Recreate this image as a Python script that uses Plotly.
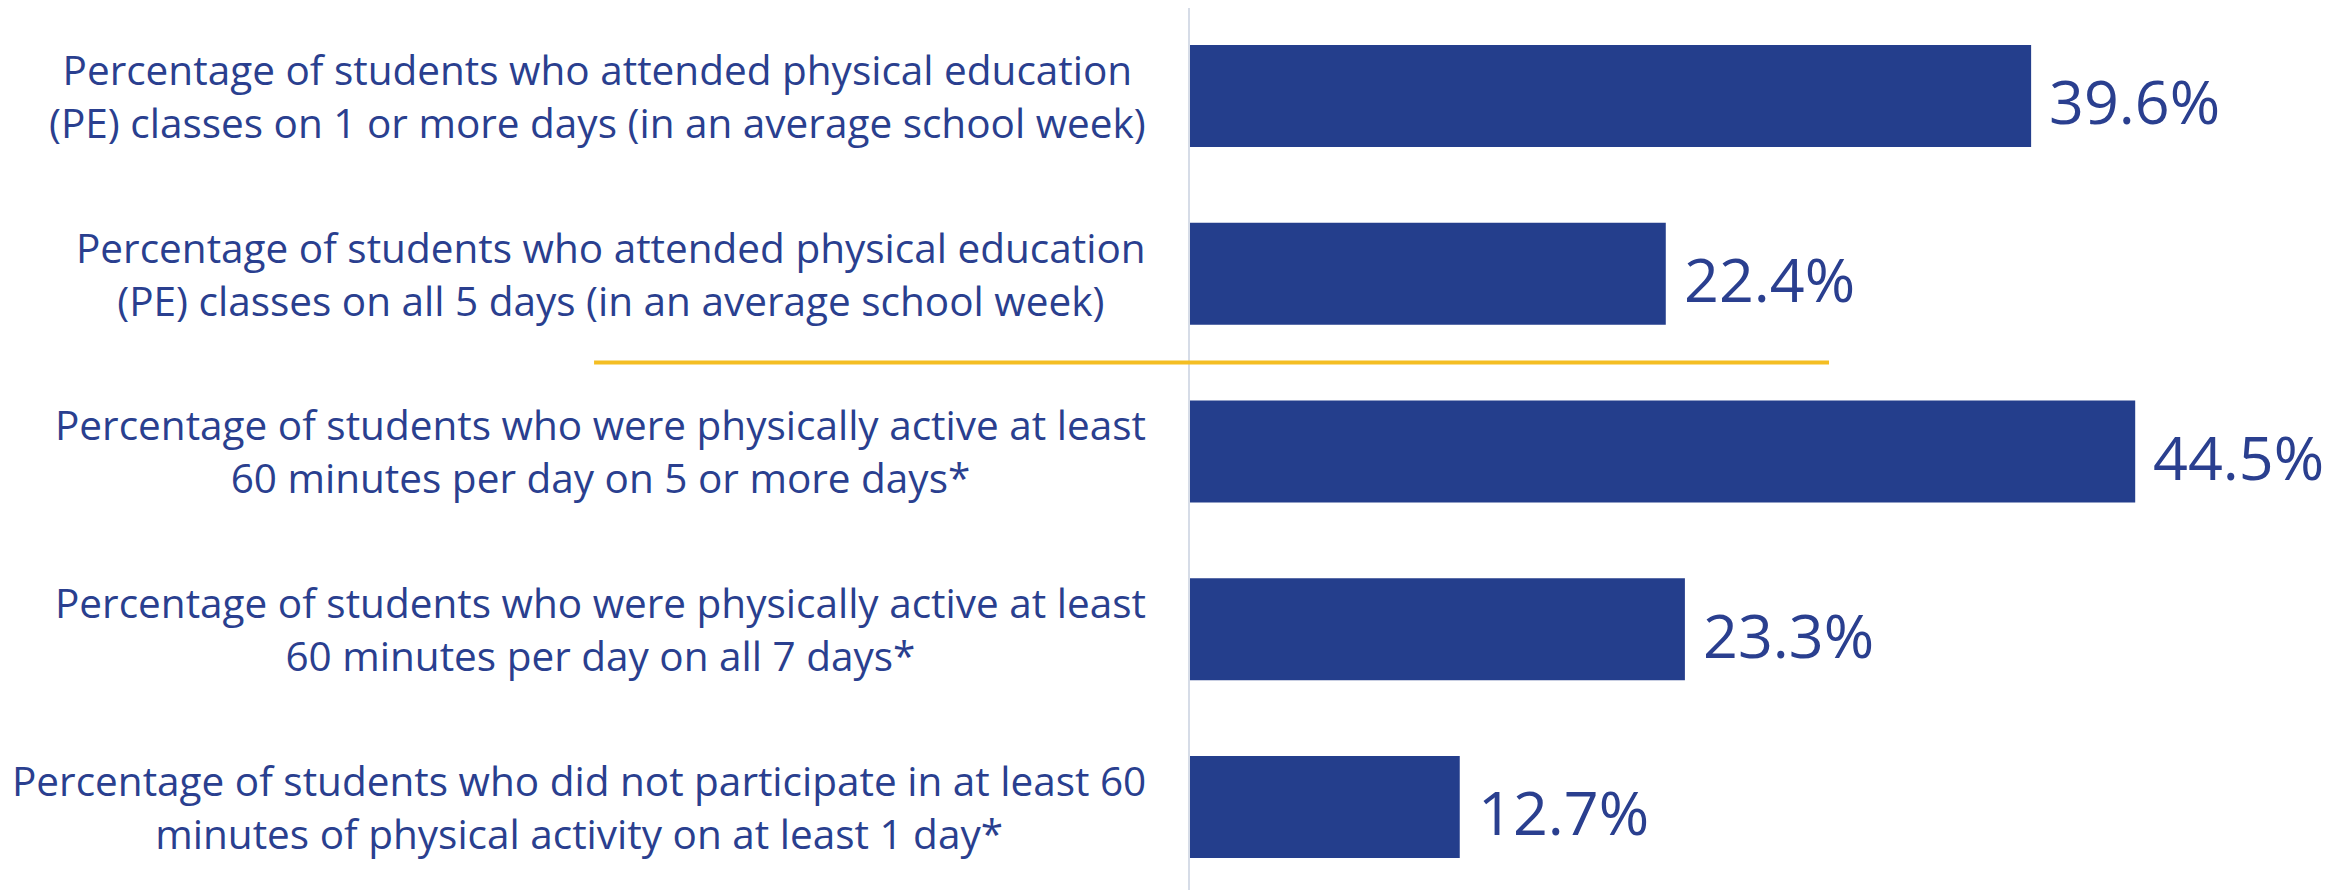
import plotly.graph_objects as go

categories = [
    "Percentage of students who attended physical education<br>(PE) classes on 1 or more days (in an average school week)",
    "Percentage of students who attended physical education<br>(PE) classes on all 5 days (in an average school week)",
    "Percentage of students who were physically active at least<br>60 minutes per day on 5 or more days*",
    "Percentage of students who were physically active at least<br>60 minutes per day on all 7 days*",
    "Percentage of students who did not participate in at least 60<br>minutes of physical activity on at least 1 day*",
]
values = [39.6, 22.4, 44.5, 23.3, 12.7]
value_labels = ["39.6%", "22.4%", "44.5%", "23.3%", "12.7%"]

BAR = "#243E8C"
TXT = "#2A3F8F"
FONT = "Open Sans, Segoe UI, Noto Sans, sans-serif"

ypos = list(range(len(categories)))

fig = go.Figure()
fig.add_trace(go.Bar(
    x=values, y=ypos, orientation="h", width=0.574,
    marker=dict(color=BAR, line=dict(width=0)),
    hoverinfo="skip",
))

annotations = []
for i, (cat, v, lab) in enumerate(zip(categories, values, value_labels)):
    annotations.append(dict(
        x=0, xref="paper", y=i, yref="y", text=cat, showarrow=False,
        xanchor="right", yanchor="middle", align="center", xshift=-42,
        font=dict(family=FONT, size=40.5, color=TXT),
    ))
    annotations.append(dict(
        x=v, xref="x", y=i, yref="y", text=lab, showarrow=False,
        xanchor="left", yanchor="middle", xshift=16, yshift=-5,
        font=dict(family=FONT, size=61, color=TXT),
    ))

# page body has an 8px margin; figure sized so it ends at the window edge
fig.update_layout(
    width=2343, height=882,
    margin=dict(l=1182, r=0, t=0, b=0),
    paper_bgcolor="white", plot_bgcolor="white",
    showlegend=False,
    xaxis=dict(range=[0, 54.66], visible=False, fixedrange=True),
    yaxis=dict(range=[4.467, -0.495], showticklabels=False, showgrid=False,
               zeroline=False, showline=True, linecolor="#D6DCE7", linewidth=2,
               ticks=""),
    annotations=annotations,
    shapes=[dict(type="line", xref="paper", yref="y",
                 x0=-0.5133, x1=0.5504,
                 y0=1.5, y1=1.5, line=dict(color="#F4BE23", width=4))],
)

fig.write_html("out.html")
